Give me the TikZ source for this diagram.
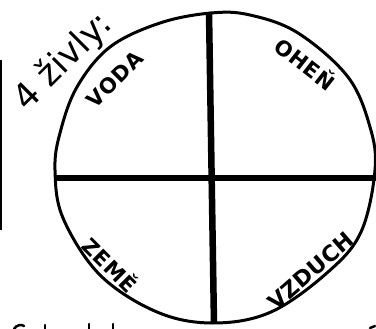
\documentclass[tikz,border=0pt]{standalone}
\usepackage{fontspec}
\setmainfont{DejaVu Sans}
\begin{document}
\begin{tikzpicture}[x=1pt,y=-1pt,
  rim/.style={line width=3pt, line join=round},
  divider/.style={line width=6.5pt},
  edge/.style={line width=2pt},
  scrap/.style={line width=2.5pt, line cap=round},
  elem/.style={font=\fontsize{21}{21}\selectfont\bfseries\addfontfeature{LetterSpace=4}, inner sep=0pt},
  bigelem/.style={font=\fontsize{22}{22}\selectfont\bfseries\addfontfeature{LetterSpace=1}, inner sep=0pt},
  title/.style={font=\fontsize{35}{35}\selectfont, inner sep=0pt},
]
\useasboundingbox (0,0) rectangle (376,329);
\fill[white] (0,0) rectangle (376,329);

% outer circle (hand drawn)
\draw[rim] plot[smooth cycle, tension=0.6] coordinates {
  (211,13) (250,15) (298,33) (348,77) (370,127) (375,170) (361,232)
  (328,272) (271,312) (213,323) (157,312) (100,275) (63,218) (55,170)
  (60,133) (77,87) (110,47) (160,23)};

% divider end points
\coordinate (top) at (209,12);
\coordinate (bottom) at (214,324);
\coordinate (left) at (56,178);
\coordinate (right) at (378,178);
\draw[divider] (top) -- (bottom);
\draw[divider] (left) -- (right);

% left edge line
\coordinate (e1) at (1,60);
\coordinate (e2) at (1,230);
\draw[edge] (e1) -- (e2);

% labels
\node[title, rotate=45] (t) at (63,62) {4 živly:};
\node[elem, rotate=45] (voda) at (115,79) {VODA};
\node[elem, rotate=-38] (ohen) at (306,63) {OHEŇ};
\node[elem, rotate=-45] (zeme) at (111,264) {ZEMĚ};
\node[bigelem, rotate=41] (vzduch) at (311,271) {VZDUCH};

% cut-off scraps at the bottom edge
\coordinate (s1) at (14,329);
\coordinate (s2) at (24,326);
\draw[scrap] (s1) .. controls (16,325) and (22,324) .. (s2);
\coordinate (s3) at (45,325);
\coordinate (s4) at (45,329);
\draw[scrap] (s3) -- (s4);
\coordinate (s5) at (89,324);
\coordinate (s6) at (89,329);
\draw[scrap] (s5) -- (s6);
\coordinate (s7) at (113,324);
\coordinate (s8) at (113,329);
\draw[scrap] (s7) -- (s8);
\coordinate (s9) at (370,328);
\coordinate (s10) at (375,326);
\draw[scrap] (s9) -- (s10);
\end{tikzpicture}
\end{document}
